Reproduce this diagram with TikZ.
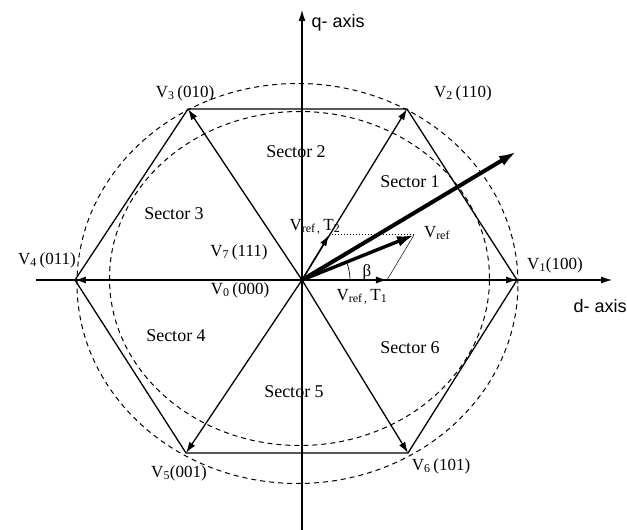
\documentclass[tikz,border=0pt]{standalone}
\usepackage{fontspec}
\setmainfont{Liberation Serif}
\newfontfamily\axisfont{Liberation Sans}
\usetikzlibrary{arrows.meta}

\begin{document}
\begin{tikzpicture}[
    x=1pt, y=1pt,
    >={Latex[length=11pt,width=7pt]},
    vec/.style={->, line width=1.3pt},
    side/.style={line width=1.3pt},
    ring/.style={dash pattern=on 5pt off 4pt, line width=1pt},
    bold/.style={-{Latex[length=17pt,width=11pt]}, line width=#1},
    vlabel/.style={font=\fontsize{17}{17}\selectfont, inner sep=1pt},
    sector/.style={font=\fontsize{18}{18}\selectfont},
    axislabel/.style={font=\axisfont\fontsize{18}{18}\selectfont},
]
\useasboundingbox (-302,-250) rectangle (325,280);

% Origin and hexagon corners
\coordinate (o) at (0,0);
\coordinate (v1) at (215,0);
\coordinate (v2) at (105,171);
\coordinate (v3) at (-114,171);
\coordinate (v4) at (-227,0);
\coordinate (v5) at (-116,-173);
\coordinate (v6) at (106,-173);

% Axes
\coordinate (dl) at (-266,0);
\coordinate (dr) at (310,0);
\coordinate (qb) at (0,-252);
\coordinate (qt) at (0,270);
\draw[->, line width=1.2pt] (dl) -- (dr);
\draw[->, line width=1.2pt] (qb) -- (qt);
\node[axislabel, anchor=west] (qlab) at (6,257) {q- axis};
\node[axislabel, anchor=west] (dlab) at (268,-26) {d- axis};

% Dashed circles
\draw[ring] (-4.5,-3.5) ellipse [x radius=220.5pt, y radius=200pt];
\draw[ring] (-2.5,1.5) ellipse [x radius=190pt, y radius=167pt];

% Hexagon
\draw[side] (v1) -- (v2) -- (v3) -- (v4) -- (v5) -- (v6) -- cycle;

% Active vectors
\foreach \k in {1,...,6}
    \draw[vec] (o) -- (v\k);

% Reference vector and its components
\coordinate (t1) at (85,0);
\coordinate (t2) at (27,45);
\coordinate (vr) at (112,45);
\coordinate (big) at (214,128);
\draw[dotted, line width=1pt] (t2) -- (vr);
\draw[line width=0.5pt] (t1) -- (vr);
\draw[vec] (o) -- (t1);
\draw[vec] (o) -- (t2);
\draw[bold=3.4pt] (o) -- (vr);
\draw[bold=4pt] (o) -- (big);
\draw[line width=0.7pt] (48,0) arc[start angle=0, end angle=22, radius=48pt];

% Vertex labels
\node[vlabel] (l1) at (253,15) {V\textsubscript{1}(100)};
\node[vlabel] (l2) at (161,187) {V\textsubscript{2}\,(110)};
\node[vlabel] (l3) at (-117,187) {V\textsubscript{3}\,(010)};
\node[vlabel] (l4) at (-255,20) {V\textsubscript{4}\,(011)};
\node[vlabel] (l5) at (-123,-193) {V\textsubscript{5}(001)};
\node[vlabel] (l6) at (139,-186) {V\textsubscript{6}\,(101)};
\node[vlabel] (l7) at (-63,28) {V\textsubscript{7}\,(111)};
\node[vlabel] (l0) at (-62,-10) {V\textsubscript{0}\,(000)};
\node[vlabel] (lref) at (135,47) {V\textsubscript{ref}};
\node[vlabel] (lt2) at (13,53) {V\textsubscript{ref\,,}\,T\textsubscript{2}};
\node[vlabel] (lt1) at (60,-17) {V\textsubscript{ref\,,}\,T\textsubscript{1}};
\node[vlabel] (beta) at (65,8) {β};

% Sectors
\node[sector] (s1) at (108,98) {Sector 1};
\node[sector] (s2) at (-6,128) {Sector 2};
\node[sector] (s3) at (-128,66) {Sector 3};
\node[sector] (s4) at (-126,-56) {Sector 4};
\node[sector] (s5) at (-8,-112) {Sector 5};
\node[sector] (s6) at (108,-68) {Sector 6};

\end{tikzpicture}
\end{document}
